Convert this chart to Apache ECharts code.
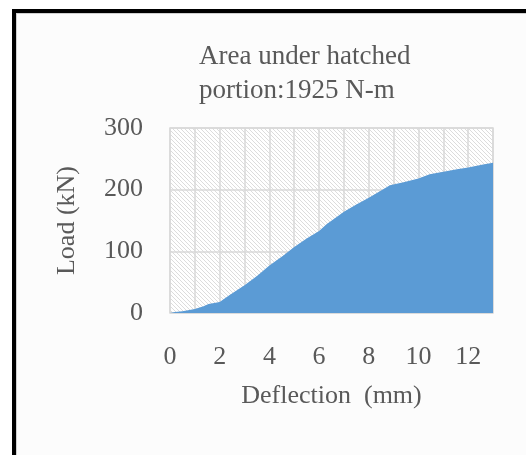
<!DOCTYPE html>
<html>
<head>
<meta charset="utf-8">
<script src="https://cdn.jsdelivr.net/npm/echarts@6/dist/echarts.min.js"></script>
<style>html,body{margin:0;padding:0;background:#fff}#c{width:526px;height:455px}</style>
</head>
<body>
<div id="c"></div>
<script>
var deflection = [0, 0.2, 0.5, 1, 1.35, 1.55, 2, 2.4, 3, 3.5, 4, 4.55, 5, 5.5, 6, 6.3, 7, 7.5, 8, 8.6, 8.85, 9.4, 10, 10.45, 11, 11.55, 12, 12.6, 13];
var load = [0, 1.6, 3, 6.5, 11, 14.5, 18, 29, 45, 60, 77, 93, 107, 121, 133, 144, 164, 176, 187, 201, 207, 212, 218, 225, 229, 233, 236, 241, 243.5];
var xTicks = [0, 2, 4, 6, 8, 10, 12];
var yTicks = [0, 100, 200, 300];
var titleLines = ['Area under hatched', 'portion:1925 N-m'];
var xName = 'Deflection  (mm)';
var yName = 'Load (kN)';

var tile = document.createElement('canvas');
tile.width = 4; tile.height = 4;
var tc = tile.getContext('2d');
tc.fillStyle = '#ffffff'; tc.fillRect(0, 0, 4, 4);
tc.fillStyle = '#dcdcdc';
for (var i = 0; i < 4; i++) { tc.fillRect(i, i, 1, 1); }

var font = '"Liberation Serif", "Times New Roman", serif';
var chart = echarts.init(document.getElementById('c'));
chart.setOption({
  backgroundColor: '#ffffff',
  animation: false,
  graphic: [
    { type: 'rect', shape: { x: 16, y: 13, width: 600, height: 600 }, style: { fill: '#fcfcfc', stroke: '#d0d0d0', lineWidth: 2 }, z: -10, silent: true },
    { type: 'rect', shape: { x: 14, y: 11, width: 600, height: 600 }, style: { fill: 'none', stroke: '#000', lineWidth: 4 }, z: -9, silent: true }
  ],
  title: {
    text: titleLines.join('\n'),
    left: 199, top: 40, padding: 0,
    textStyle: { fontFamily: font, fontSize: 27, fontWeight: 'normal', color: '#595959', lineHeight: 34 }
  },
  grid: {
    left: 170, right: 33, top: 128, bottom: 142,
    show: true,
    backgroundColor: { image: tile, repeat: 'repeat' },
    borderColor: '#d9d9d9', borderWidth: 1.5
  },
  xAxis: {
    type: 'value', min: 0, max: 13, interval: 1,
    name: xName, nameLocation: 'middle', nameGap: 70,
    nameTextStyle: { fontFamily: font, fontSize: 26, color: '#595959' },
    axisLine: { show: false }, axisTick: { show: false },
    axisLabel: {
      margin: 31, fontFamily: font, fontSize: 26, color: '#595959',
      formatter: function (v) { return xTicks.indexOf(v) >= 0 ? String(v) : ''; }
    },
    splitLine: { show: true, lineStyle: { color: '#d9d9d9', width: 1.5 } }
  },
  yAxis: {
    type: 'value', min: 0, max: 300, interval: 100,
    name: yName, nameLocation: 'middle', nameGap: 90,
    nameTextStyle: { fontFamily: font, fontSize: 26, color: '#595959' },
    axisLine: { show: false }, axisTick: { show: false },
    axisLabel: {
      margin: 27, fontFamily: font, fontSize: 26, color: '#595959',
      formatter: function (v) { return yTicks.indexOf(v) >= 0 ? String(v) : ''; }
    },
    splitLine: { show: true, lineStyle: { color: '#d9d9d9', width: 1.5 } }
  },
  series: [{
    type: 'line',
    data: deflection.map(function (d, i) { return [d, load[i]]; }),
    showSymbol: false,
    lineStyle: { width: 0, color: '#5b9bd5' },
    itemStyle: { color: '#5b9bd5' },
    areaStyle: { color: '#5b9bd5', opacity: 1 }
  }]
});
</script>
</body>
</html>
